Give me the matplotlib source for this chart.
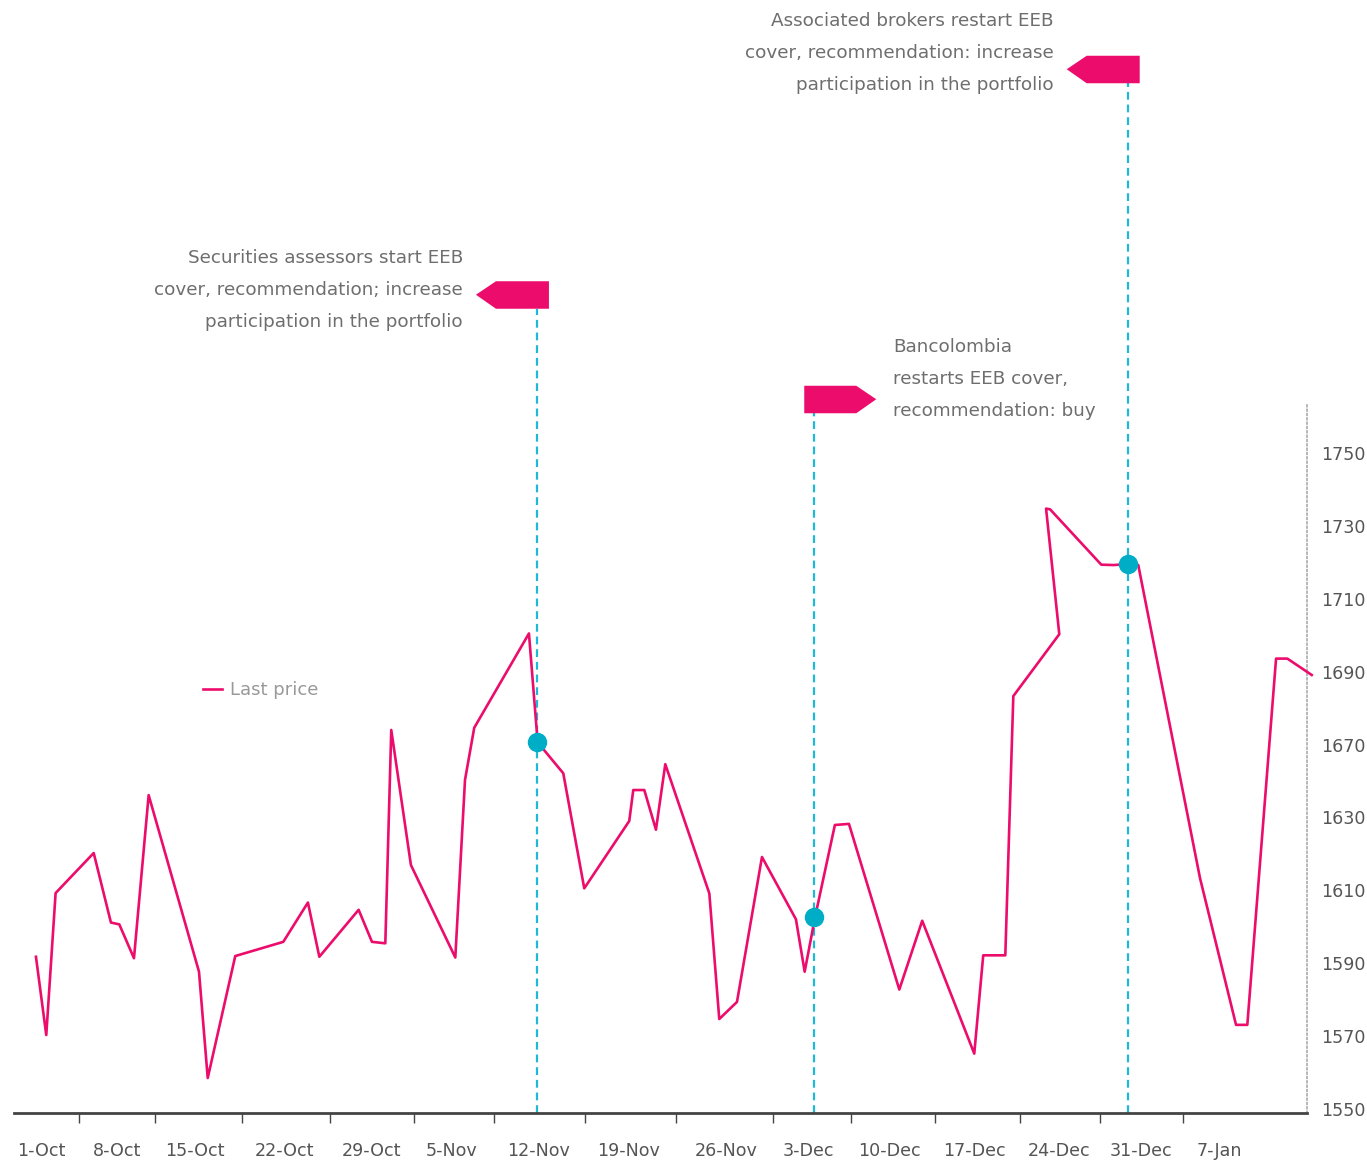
import matplotlib

matplotlib.use("Agg")
import matplotlib.pyplot as plt
import matplotlib.transforms as mtransforms
from matplotlib.patches import Polygon

# Price series (x = days from 1-Oct on the chart's time axis, y = price)
days = [
    0.0, 0.85, 1.62, 4.76, 6.18, 6.87, 8.08, 9.29, 13.44, 14.16,
    16.43, 20.39, 22.42, 23.36, 26.6, 27.7, 28.8, 29.29, 30.91, 34.57,
    35.37, 36.13, 40.64, 41.36, 43.47, 45.2, 48.91, 49.24, 50.15, 51.11,
    51.88, 55.51, 56.33, 57.79, 59.85, 62.65, 63.37, 64.22, 65.86, 67.02,
    71.17, 73.06, 77.35, 78.09, 79.91, 80.57, 84.36, 83.27, 83.6, 87.82,
    88.81, 89.83, 90.87, 95.96, 98.93, 99.86, 102.23, 103.16, 105.17,
]
prices = [
    1591.7, 1570.2, 1609.2, 1620.2, 1601.1, 1600.6, 1591.3, 1636.1, 1587.6, 1558.4,
    1591.9, 1595.8, 1606.6, 1591.7, 1604.6, 1595.8, 1595.4, 1654.0, 1616.9, 1591.5,
    1640.3, 1654.6, 1680.5, 1650.6, 1642.1, 1610.5, 1629.0, 1637.5, 1637.5, 1626.6,
    1644.6, 1609.1, 1574.6, 1579.3, 1619.1, 1602.0, 1587.6, 1602.5, 1627.9, 1628.2,
    1582.7, 1601.6, 1565.1, 1592.1, 1592.1, 1663.3, 1680.3, 1714.8, 1714.6, 1699.4,
    1699.3, 1699.5, 1699.3, 1613.3, 1573.0, 1573.0, 1673.6, 1673.6, 1669.1,
]

# Events (flags)
event_days = [41.3, 64.16, 90.0]
event_prices = [1650.6, 1602.5, 1699.5]
event_texts = [
    "Securities assessors start EEB\ncover, recommendation; increase\nparticipation in the portfolio",
    "Bancolombia\nrestarts EEB cover,\nrecommendation: buy",
    "Associated brokers restart EEB\ncover, recommendation: increase\nparticipation in the portfolio",
]
event_sides = ["left", "right", "left"]

# Axis ticks
week_bounds = [3.54, 9.81, 16.98, 24.24, 31.16, 37.76, 45.26, 52.76, 60.76,
               67.19, 74.12, 81.12, 87.72, 94.56]
date_label_pos = [0.41, 6.68, 13.11, 20.53, 27.62, 34.3, 41.47, 48.89, 56.88,
                  63.68, 70.37, 77.33, 84.34, 91.1, 97.57]
date_labels = ["1-Oct", "8-Oct", "15-Oct", "22-Oct", "29-Oct", "5-Nov", "12-Nov",
               "19-Nov", "26-Nov", "3-Dec", "10-Dec", "17-Dec", "24-Dec",
               "31-Dec", "7-Jan"]
price_ticks = [1550, 1570, 1590, 1610, 1630, 1650, 1670, 1690, 1710, 1730]
price_labels = ["1550", "1570", "1590", "1610", "1630", "1670", "1690", "1710",
                "1730", "1750"]

LINE = "#ec0c6c"
CYAN = "#00adc6"
DASH = "#1fb8d6"
TEXT = "#6e6e6e"

plt.rcParams["font.family"] = ["DejaVu Sans"]

fig = plt.figure(figsize=(13.67, 11.61), dpi=100)
ax = fig.add_axes([14 / 1367, 48 / 1161, 1293 / 1367, 1113 / 1161])
ax.set_xlim(-1.81, 104.78)
ax.set_ylim(1548.79, 1854.5)

ax.plot(days, prices, color=LINE, linewidth=1.9, clip_on=False,
        label="Last price", zorder=3)
ax.plot(event_days, event_prices, "o", color=CYAN, markersize=14,
        markeredgewidth=0, zorder=4)

blend = mtransforms.blended_transform_factory(ax.transData, ax.transAxes)
flag_fracs = [0.7226, 0.6287, 0.9252]
text_offsets = [(-74, 18.7), (79, 34.3), (-74, 30.3)]
for x, frac, side, text, off in zip(event_days, flag_fracs, event_sides,
                                    event_texts, text_offsets):
    ax.axvline(x, ymin=0, ymax=frac, color=DASH, linewidth=1.6,
               linestyle=(0, (3.5, 2.2)), zorder=2)
    if side == "left":
        verts = [(-61, 14), (-41, 27.5), (12, 27.5), (12, 0), (-41, 0)]
    else:
        verts = [(62, 14), (42, 27.5), (-10, 27.5), (-10, 0), (42, 0)]
    tr = mtransforms.Affine2D() + mtransforms.ScaledTranslation(x, frac, blend)
    ax.add_patch(Polygon(verts, closed=True, transform=tr, facecolor=LINE,
                         edgecolor="none", clip_on=False, zorder=5))
    ax.annotate(text, xy=(x, frac), xycoords=blend, xytext=off,
                textcoords="offset pixels",
                ha="right" if side == "left" else "left", va="center",
                multialignment="right" if side == "left" else "left",
                fontsize=13.2, color=TEXT, linespacing=1.97)

# x axis
for side in ["top", "left"]:
    ax.spines[side].set_visible(False)
ax.spines["bottom"].set_color("#444444")
ax.spines["bottom"].set_linewidth(2)
ax.set_xticks(week_bounds)
ax.set_xticklabels([])
ax.tick_params(axis="x", which="major", direction="out", length=7.5,
               width=1, color="#444444")
ax.set_xticks(date_label_pos, minor=True)
ax.set_xticklabels(date_labels, minor=True)
ax.tick_params(axis="x", which="minor", length=0, pad=21, labelsize=12.6,
               labelcolor="#555555")

# y axis on the right
ax.yaxis.tick_right()
ax.set_yticks(price_ticks)
ax.set_yticklabels(price_labels)
ax.tick_params(axis="y", length=0, pad=10, labelsize=12.6, labelcolor="#555555")
ax.spines["right"].set_bounds(1548.79, 1743.3)
ax.spines["right"].set_color("#aaaaaa")
ax.spines["right"].set_linewidth(1.2)
ax.spines["right"].set_linestyle((0, (1, 1.6)))

leg = ax.legend(loc="center left", bbox_to_anchor=(203 / 1367, 1 - 690 / 1161),
                bbox_transform=fig.transFigure, frameon=False, fontsize=13,
                handlelength=1.05, handletextpad=0.45, borderpad=0,
                borderaxespad=0)
for t in leg.get_texts():
    t.set_color("#999999")

fig.savefig("out.png", dpi=100)
